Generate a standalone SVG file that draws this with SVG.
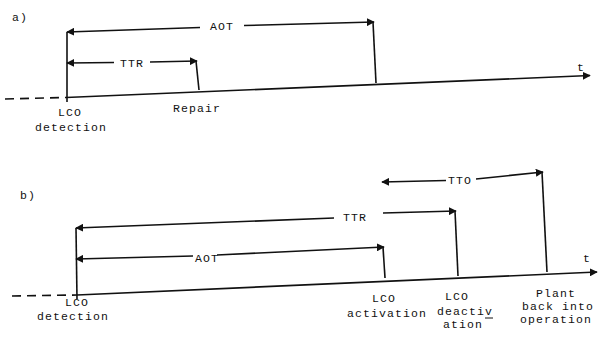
<svg xmlns="http://www.w3.org/2000/svg" width="604" height="337" viewBox="0 0 604 337">
<style>
.ln{stroke:#111;stroke-width:1.6;fill:none}
.ds{stroke:#111;stroke-width:1.6;fill:none;stroke-dasharray:9 6}
.ae{stroke:#111;stroke-width:1.6;fill:none;marker-end:url(#ah)}
.as{stroke:#111;stroke-width:1.6;fill:none;marker-start:url(#ah)}
text{font-family:"Liberation Mono","DejaVu Sans Mono",monospace;font-size:11.5px;letter-spacing:1.1px;fill:#111}
</style>
<defs>
<marker id="ah" viewBox="0 0 10 10" refX="9" refY="5" markerWidth="5" markerHeight="5" orient="auto-start-reverse" markerUnits="strokeWidth">
<path d="M0,0 L10,5 L0,10 Z" fill="#111"/>
</marker>
</defs>

<g id="panel-a">
<text x="12" y="21">a)</text>
<g id="a-axis">
<line class="ds" x1="5" y1="99" x2="66" y2="97.5"/>
<line class="ae" x1="66" y1="97.5" x2="590" y2="75.5"/>
<text x="577" y="71">t</text>
</g>
<g id="a-lco-detection">
<line class="ln" x1="67" y1="102" x2="67" y2="32"/>
<text x="58" y="116">LCO</text>
<text x="35" y="131">detection</text>
</g>
<g id="a-repair">
<line class="ln" x1="196" y1="61" x2="199" y2="90"/>
<text x="173" y="112">Repair</text>
</g>
<g id="a-aot-end">
<line class="ln" x1="373" y1="22" x2="376" y2="83"/>
</g>
<g id="a-connectors">
<polyline class="as" points="67,32 200,27.5"/>
<polyline class="ae" points="244,25.5 374,22"/>
<text x="210" y="30">AOT</text>
<polyline class="as" points="67,63 114,62.5"/>
<polyline class="ae" points="150,62 197,61"/>
<text x="120" y="67">TTR</text>
</g>
</g>

<g id="panel-b">
<text x="20" y="199">b)</text>
<g id="b-axis">
<line class="ds" x1="12" y1="296" x2="77" y2="295"/>
<line class="ae" x1="77" y1="295" x2="597" y2="272"/>
<text x="583" y="262">t</text>
</g>
<g id="b-lco-detection">
<line class="ln" x1="77" y1="299" x2="76" y2="228"/>
<text x="65" y="306">LCO</text>
<text x="37" y="320">detection</text>
</g>
<g id="b-lco-activation">
<line class="ln" x1="383" y1="247" x2="385" y2="278"/>
<text x="372" y="302">LCO</text>
<text x="347" y="317">activation</text>
</g>
<g id="b-lco-deactivation">
<line class="ln" x1="455" y1="211" x2="458" y2="276"/>
<text x="445" y="300">LCO</text>
<text x="437" y="315">deactiv</text>
<line class="ln" x1="485" y1="318" x2="493" y2="318" style="stroke-width:1"/>
<text x="443" y="328">ation</text>
</g>
<g id="b-plant-back">
<line class="ln" x1="542" y1="172" x2="547" y2="272"/>
<text x="536" y="297">Plant</text>
<text x="522" y="310">back into</text>
<text x="520" y="323">operation</text>
</g>
<g id="b-connectors">
<polyline class="as" points="76,228 334,218"/>
<polyline class="ae" points="383,213 456,211"/>
<text x="343" y="221">TTR</text>
<polyline class="as" points="76,259 193,256"/>
<polyline class="ae" points="217,255 384,247"/>
<text x="195" y="262">AOT</text>
<polyline class="as" points="382,182 446,180.5"/>
<polyline class="ae" points="476,179 543,172"/>
<text x="448" y="184">TTO</text>
</g>
</g>
</svg>
